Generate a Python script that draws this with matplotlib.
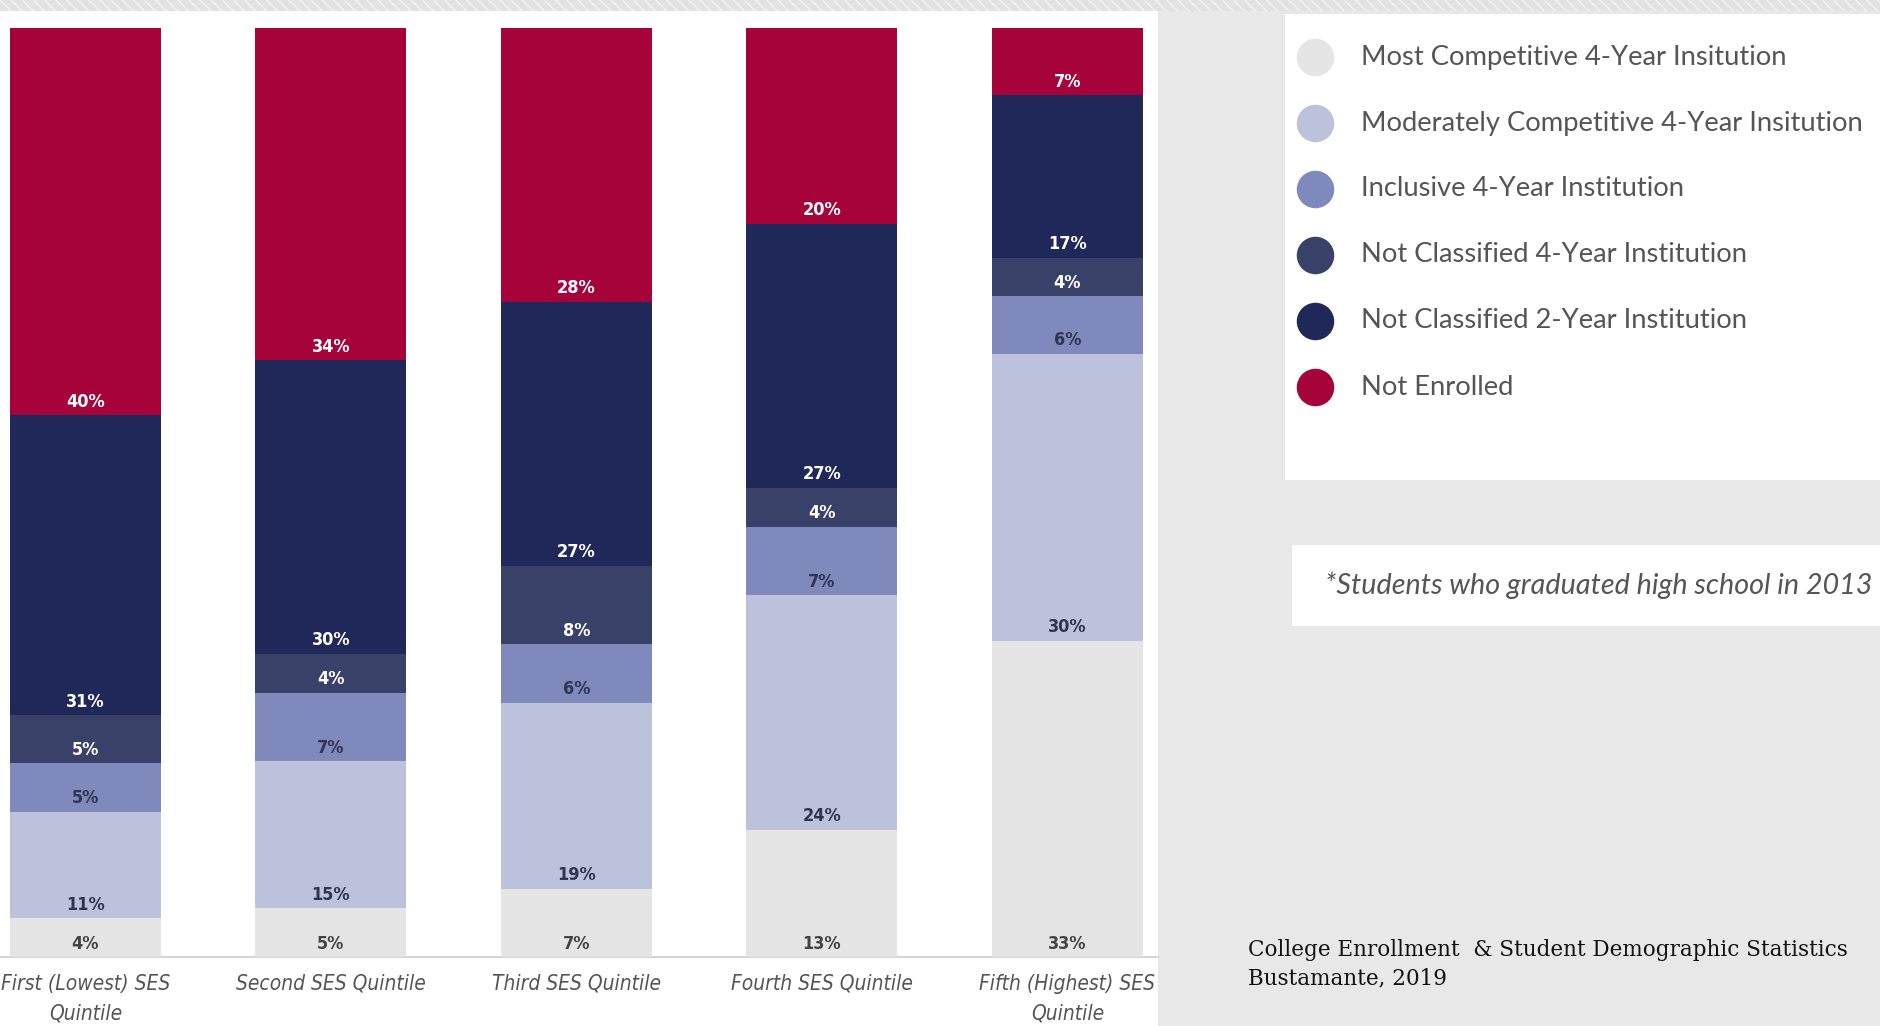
import numpy as np
import matplotlib.pyplot as plt
from matplotlib.patches import Rectangle
from matplotlib.lines import Line2D

# data (labels are the printed %; bars are drawn as shares of each column)
quintiles = ["First (Lowest) SES\nQuintile", "Second SES Quintile", "Third SES Quintile",
             "Fourth SES Quintile", "Fifth (Highest) SES\nQuintile"]
most_comp = [4, 5, 7, 13, 33]
moderate_comp = [11, 15, 19, 24, 30]
inclusive = [5, 7, 6, 7, 6]
nc_4yr = [5, 4, 8, 4, 4]
nc_2yr = [31, 30, 27, 27, 17]
not_enrolled = [40, 34, 28, 20, 7]

series_names = ["Most Competitive 4-Year Insitution",
                "Moderately Competitive 4-Year Insitution",
                "Inclusive 4-Year Institution",
                "Not Classified 4-Year Institution",
                "Not Classified 2-Year Institution",
                "Not Enrolled"]
colors = ["#e5e5e5", "#bcc2dc", "#8089bb", "#3a4168", "#1f2859", "#a6033a"]
label_colors = ["#444444", "#2f3550", "#2f3550", "white", "white", "white"]

footnote = "*Students who graduated high school in 2013"
source = "College Enrollment  & Student Demographic Statistics\nBustamante, 2019"

W, H = 1880, 1026
fig = plt.figure(figsize=(W / 100, H / 100), dpi=100, facecolor="#e8e8e8")

# top striped band
fig.add_artist(Rectangle((0, 1 - 11 / H), 1, 11 / H, transform=fig.transFigure,
                         facecolor="#e2e2e2", edgecolor="#f3f3f3", hatch="\\\\\\",
                         linewidth=0, zorder=0))
# white chart panel
panel = Rectangle((0, 0), 1158 / W, 1 - 11 / H, transform=fig.transFigure,
                  facecolor="white", edgecolor="none", zorder=0)
fig.add_artist(panel)

ax = fig.add_axes([0, (H - 957) / H, 1158 / W, 929 / H])
ax.set_facecolor("none")

data = np.array([most_comp, moderate_comp, inclusive, nc_4yr, nc_2yr, not_enrolled], dtype=float)
shares = data / data.sum(axis=0) * 100
x = np.arange(len(quintiles))
bottom = np.zeros(len(quintiles))

for i in range(len(series_names)):
    ax.bar(x, shares[i], 0.615, bottom=bottom, color=colors[i], linewidth=0, zorder=2)
    for j in range(len(x)):
        ax.text(x[j], bottom[j] + 1.45, f"{int(data[i, j])}%", ha="center", va="center",
                fontsize=13, fontweight="bold", fontstretch="condensed",
                color=label_colors[i], zorder=3)
    bottom += shares[i]

ax.axhline(0, color="#d4d4d4", linewidth=1.5, zorder=1, clip_on=False)
ax.set_xlim(-0.348, 4.369)
ax.set_ylim(0, 100)
ax.set_yticks([])
ax.set_xticks(x, quintiles)
ax.tick_params(axis="x", length=0, pad=12)
for lbl in ax.get_xticklabels():
    lbl.set_fontsize(15)
    lbl.set_style("italic")
    lbl.set_stretch("condensed")
    lbl.set_color("#555555")
    lbl.set_linespacing(1.6)
    lbl.set_clip_path(panel)
for s in ax.spines.values():
    s.set_visible(False)

# legend box
fig.add_artist(Rectangle((1285 / W, 1 - 480 / H), 1 - 1285 / W, 466 / H, transform=fig.transFigure,
                         facecolor="white", edgecolor="none", zorder=0))
leg_y = [57, 123, 189, 255, 321, 387]
for name, c, yy in zip(series_names, colors, leg_y):
    fig.add_artist(Line2D([1315 / W], [1 - yy / H], marker="o", markersize=27, color=c,
                          markeredgewidth=0, transform=fig.transFigure))
    fig.text(1361 / W, 1 - yy / H, name, ha="left", va="center", fontsize=19.7,
             family="Lato", color="#555555")

# footnote box
fig.add_artist(Rectangle((1292 / W, 1 - 626 / H), 1 - 1292 / W, 81 / H, transform=fig.transFigure,
                         facecolor="white", edgecolor="none", zorder=0))
fig.text(1325 / W, 1 - 585 / H, footnote, ha="left", va="center", fontsize=20.7,
         style="italic", family="Lato", color="#555555")

fig.text(1248 / W, 1 - 964 / H, source, ha="left", va="center", fontsize=15.5,
         family="DejaVu Serif", color="#111111", linespacing=1.4)

fig.savefig("out.png", dpi=100, facecolor=fig.get_facecolor())
